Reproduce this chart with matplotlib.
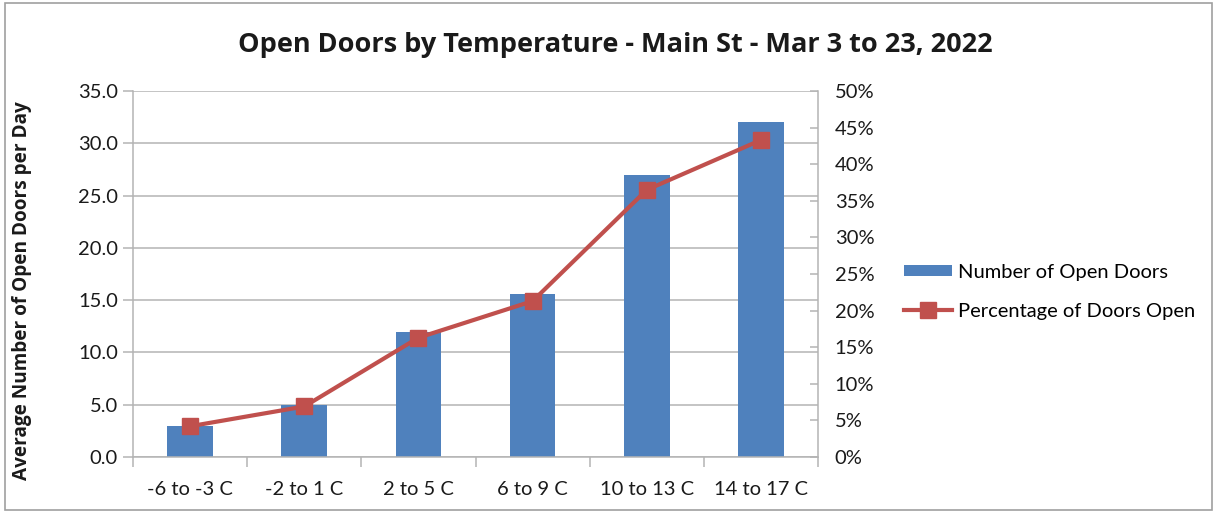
import numpy as np
import matplotlib.pyplot as plt
from matplotlib.patches import Rectangle
from matplotlib.ticker import FuncFormatter, MultipleLocator

plt.rcParams['font.family'] = ['Lato', 'DejaVu Sans']

categories = ["-6 to -3 C", "-2 to 1 C", "2 to 5 C", "6 to 9 C", "10 to 13 C", "14 to 17 C"]
open_doors = [3.0, 5.0, 12.0, 15.6, 27.0, 32.0]
pct_open = [4.2, 6.9, 16.3, 21.3, 36.5, 43.3]

bar_col = "#4F81BD"
line_col = "#C0504D"
grid_col = "#B4B4B4"
txt_col = "#1a1a1a"
fs = 14.5

fig = plt.figure(figsize=(12.17, 5.12), dpi=100)
fig.patches.append(Rectangle((0.004, 0.004), 0.992, 0.99, transform=fig.transFigure,
                             fill=False, edgecolor="#A0A0A0", linewidth=1.2))

ax = fig.add_axes([0.1093, 0.1074, 0.5629, 0.7149])
x = np.arange(len(categories))
bars = ax.bar(x, open_doors, width=0.4, color=bar_col, label="Number of Open Doors", zorder=2)
ax.set_xlim(-0.5, len(categories) - 0.5)
ax.set_ylim(0, 35)
ax.yaxis.set_major_locator(MultipleLocator(5))
ax.yaxis.set_major_formatter(FuncFormatter(lambda v, p: f"{v:.1f}"))
ax.grid(axis="y", color=grid_col, linewidth=1.1, zorder=0)
ax.set_axisbelow(True)
ax.set_xticks(x)
ax.set_xticklabels(categories)
ax.set_xticks(np.arange(len(categories) + 1) - 0.5, minor=True)
ax.tick_params(axis="x", which="major", length=0, labelsize=fs, pad=17, labelcolor=txt_col)
ax.tick_params(axis="x", which="minor", length=7, color=grid_col, width=1.1)
ax.tick_params(axis="y", length=7, color=grid_col, width=1.1, labelsize=fs,
               labelcolor=txt_col, pad=4)
for s in ["top", "right"]:
    ax.spines[s].set_visible(False)
for s in ["left", "bottom"]:
    ax.spines[s].set_color(grid_col)
    ax.spines[s].set_linewidth(1.1)
ax.set_ylabel("Average Number of Open Doors per Day", fontsize=13.7, fontweight="bold",
              family="Open Sans", color=txt_col, va="center")
ax.yaxis.set_label_coords(-0.162, 0.454)

ax2 = ax.twinx()
line, = ax2.plot(x, pct_open, color=line_col, linewidth=3, marker="s", markersize=12,
                 label="Percentage of Doors Open", zorder=3)
ax2.set_ylim(0, 50)
ax2.yaxis.set_major_locator(MultipleLocator(5))
ax2.yaxis.set_major_formatter(FuncFormatter(lambda v, p: f"{v:.0f}%"))
ax2.tick_params(axis="y", direction="in", length=6, color=grid_col, width=1.1,
                labelsize=fs, labelcolor=txt_col, pad=12)
for s in ["top", "left", "bottom"]:
    ax2.spines[s].set_visible(False)
ax2.spines["right"].set_color(grid_col)
ax2.spines["right"].set_linewidth(1.1)

fig.text(0.506, 0.912, "Open Doors by Temperature - Main St - Mar 3 to 23, 2022",
         ha="center", va="center", fontsize=19.5, fontweight="bold", family="Open Sans",
         color=txt_col)

fig.legend([bars, line], ["Number of Open Doors", "Percentage of Doors Open"],
           loc="center left", bbox_to_anchor=(0.728, 0.43), frameon=False,
           fontsize=fs, handlelength=2.4, handleheight=0.5, labelspacing=1.1,
           handletextpad=0.3)

fig.savefig("out.png", dpi=100)
